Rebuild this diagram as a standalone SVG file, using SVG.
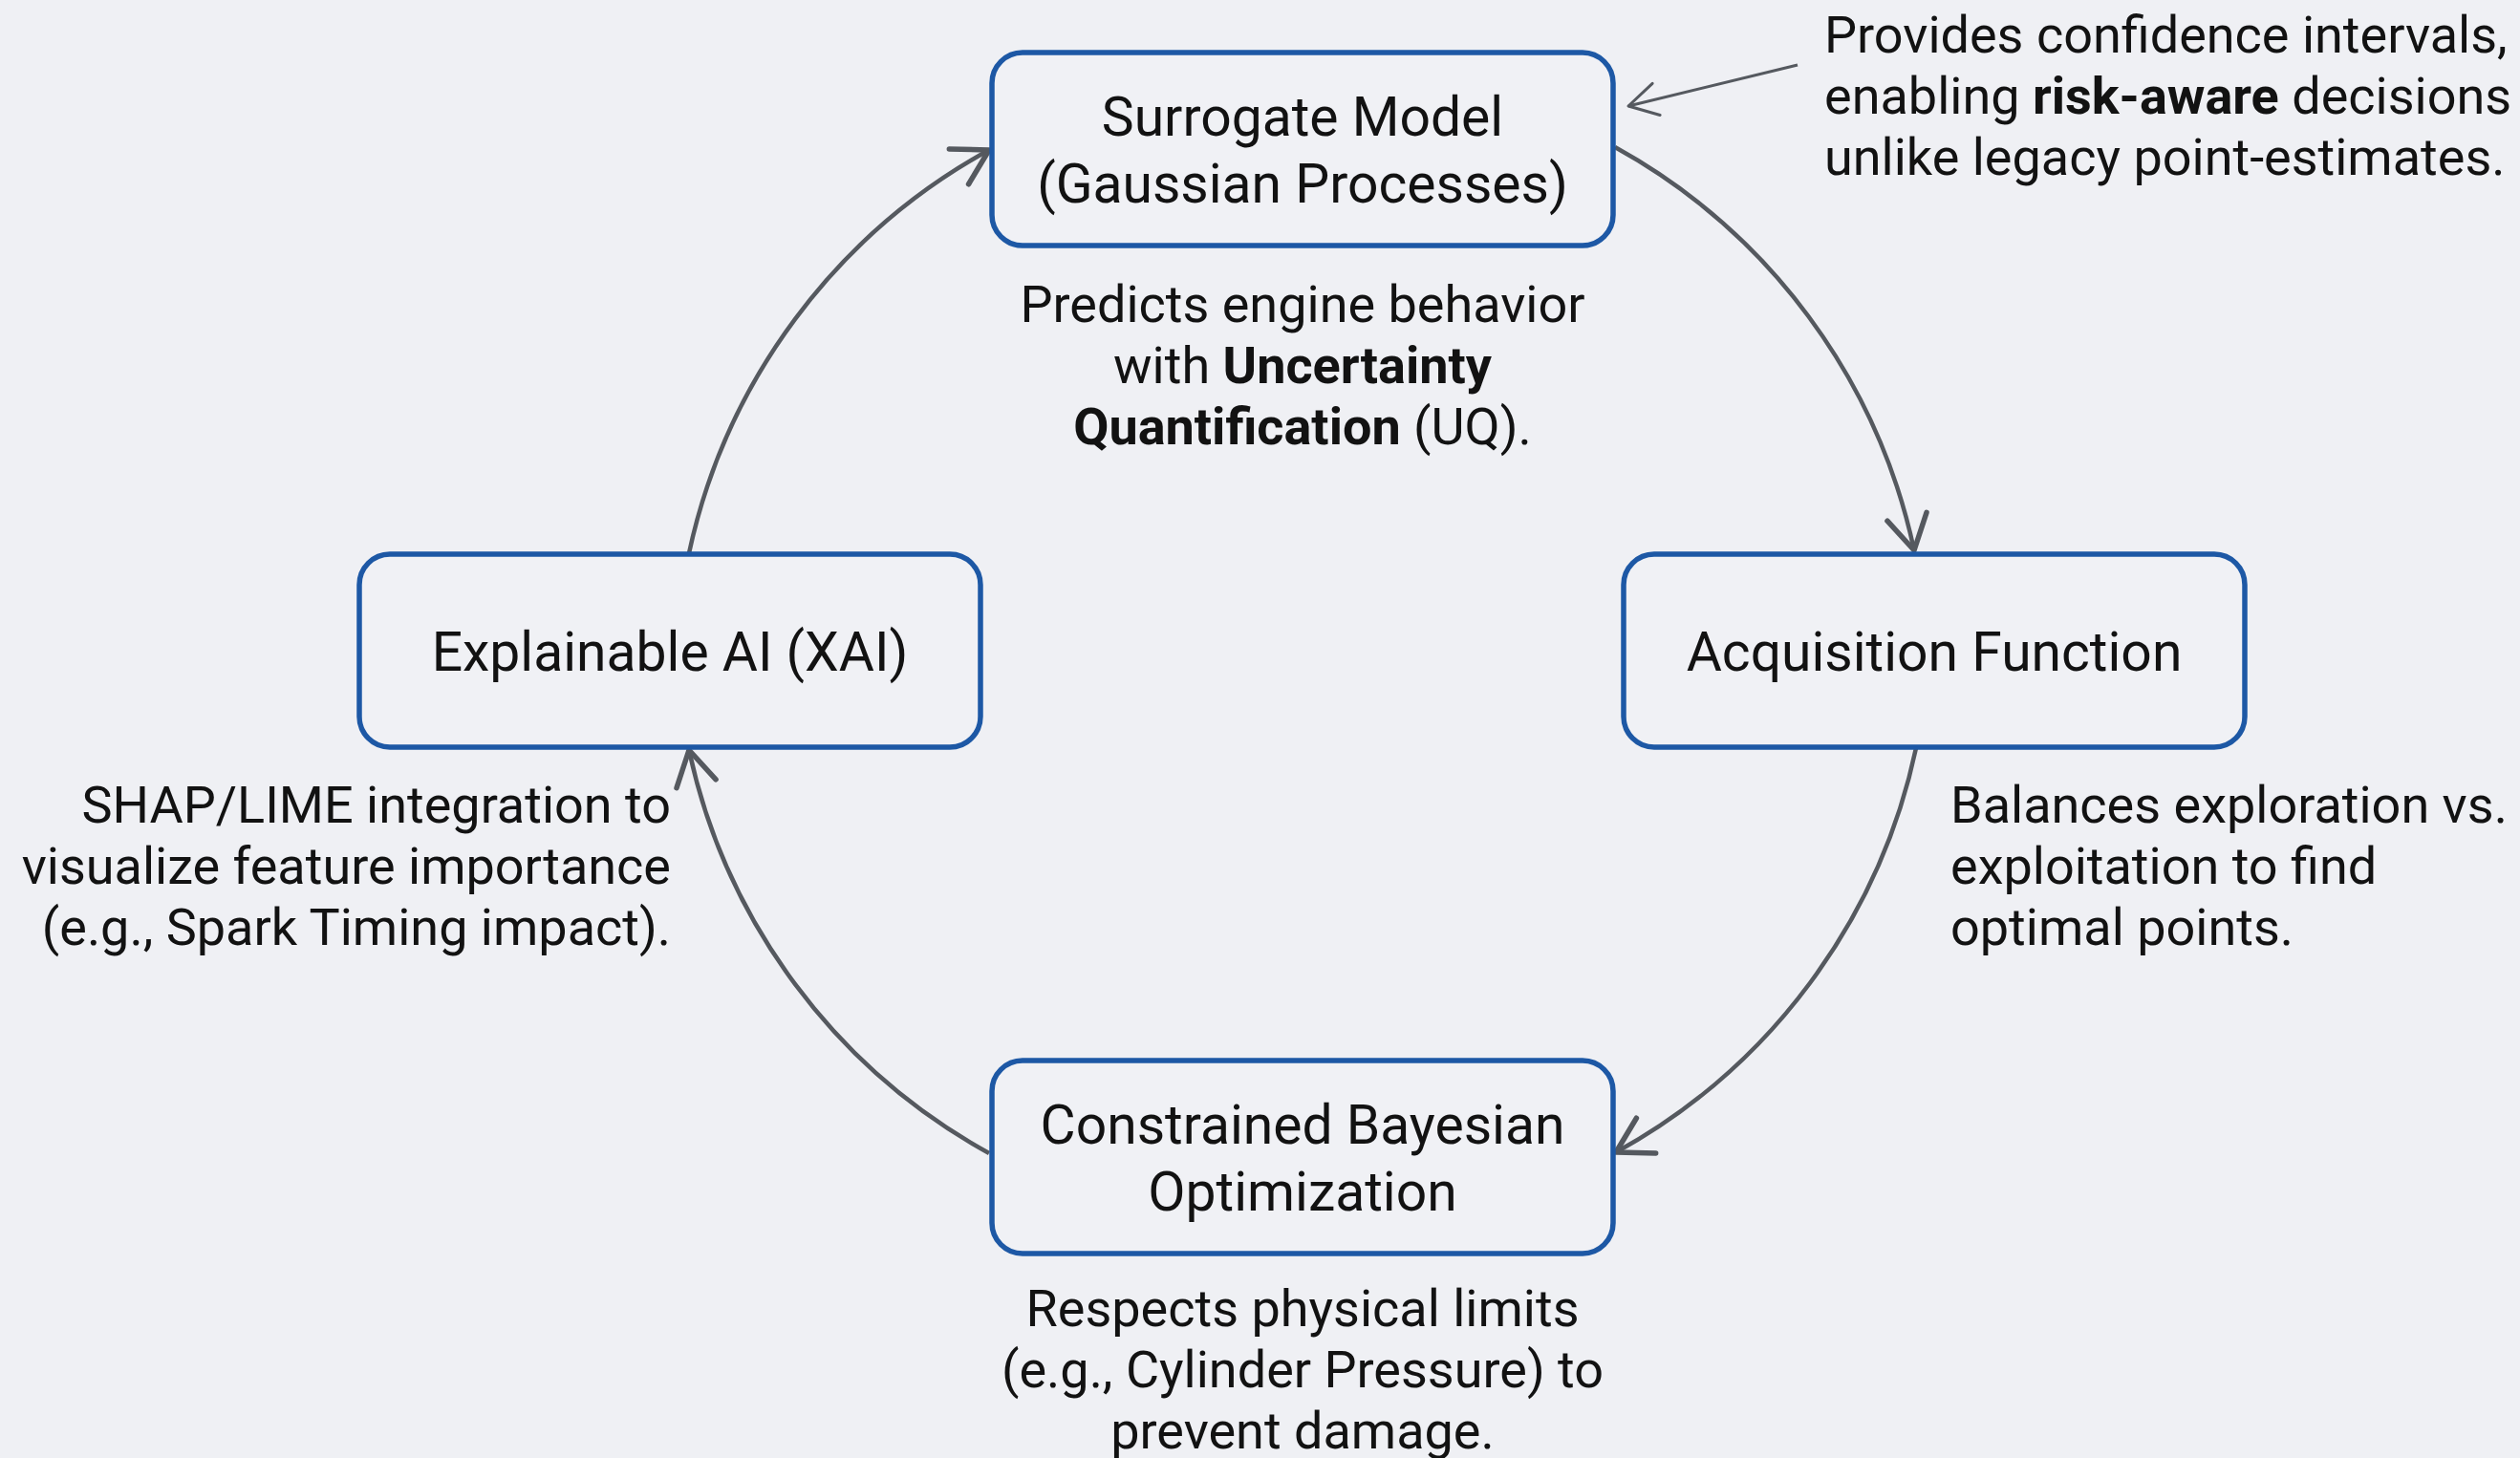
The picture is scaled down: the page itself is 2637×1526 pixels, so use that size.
<svg xmlns="http://www.w3.org/2000/svg" width="2637" height="1526" viewBox="0 0 2637 1526">
  <style>
    .node { fill: #f0f1f5; stroke: #1d58a5; stroke-width: 5.5; }
    .label { font-family: Roboto, "Liberation Sans", sans-serif; font-size: 57px; fill: #121212; text-anchor: middle; }
    .note { font-family: Roboto, "Liberation Sans", sans-serif; font-size: 54px; fill: #121212; }
    .b { font-weight: 700; }
    .flow { fill: none; stroke: #55595f; stroke-width: 4.5; marker-end: url(#head); }
    .callout { fill: none; stroke: #55595f; stroke-width: 3; marker-end: url(#thinHead); }
  </style>
  <defs>
    <marker id="head" markerUnits="userSpaceOnUse" orient="auto" overflow="visible" markerWidth="1" markerHeight="1" refX="0" refY="0">
      <path d="M-36,-21 L0,0 L-36,21" fill="none" stroke="#55595f" stroke-width="5.5" stroke-linecap="round" stroke-linejoin="round"/>
    </marker>
    <marker id="thinHead" markerUnits="userSpaceOnUse" orient="auto" overflow="visible" markerWidth="1" markerHeight="1" refX="0" refY="0">
      <path d="M-30,-17 L0,0 L-30,17" fill="none" stroke="#55595f" stroke-width="3" stroke-linecap="round" stroke-linejoin="round"/>
    </marker>
  </defs>

  <rect width="2637" height="1526" fill="#eff0f4"/>

  <!-- cycle connectors -->
  <g id="connectors">
    <path class="flow" d="M1690,154 A633,633 0 0 1 2003,576"/>
    <path class="flow" d="M2005,783 A633,633 0 0 1 1691,1206"/>
    <path class="flow" d="M1035,1207 A633,633 0 0 1 721,785"/>
    <path class="flow" d="M721,579 A633,633 0 0 1 1035,157"/>
    <path class="callout" d="M1881,68 L1704,111"/>
  </g>

  <g id="surrogate-model">
    <rect class="node" x="1038" y="55" width="650" height="202" rx="32"/>
    <text class="label" x="1363" y="142">Surrogate Model</text>
    <text class="label" x="1363" y="212">(Gaussian Processes)</text>
  </g>

  <g id="acquisition-function">
    <rect class="node" x="1699" y="580" width="650" height="202" rx="32"/>
    <text class="label" x="2024" y="702">Acquisition Function</text>
  </g>

  <g id="constrained-bo">
    <rect class="node" x="1038" y="1110" width="650" height="202" rx="32"/>
    <text class="label" x="1363" y="1197">Constrained Bayesian</text>
    <text class="label" x="1363" y="1267">Optimization</text>
  </g>

  <g id="explainable-ai">
    <rect class="node" x="376" y="580" width="650" height="202" rx="32"/>
    <text class="label" x="701" y="702">Explainable AI (XAI)</text>
  </g>

  <!-- annotations -->
  <g id="note-uq">
    <text class="note" text-anchor="middle" x="1363" y="337">Predicts engine behavior</text>
    <text class="note" text-anchor="middle" x="1363" y="401">with <tspan class="b">Uncertainty</tspan></text>
    <text class="note" text-anchor="middle" x="1363" y="465"><tspan class="b">Quantification</tspan> (UQ).</text>
  </g>

  <g id="note-confidence">
    <text class="note" x="1909" y="55">Provides confidence intervals,</text>
    <text class="note" x="1909" y="119">enabling <tspan class="b">risk-aware</tspan> decisions</text>
    <text class="note" x="1909" y="183">unlike legacy point-estimates.</text>
  </g>

  <g id="note-acquisition">
    <text class="note" x="2041" y="861">Balances exploration vs.</text>
    <text class="note" x="2041" y="925">exploitation to find</text>
    <text class="note" x="2041" y="989">optimal points.</text>
  </g>

  <g id="note-xai">
    <text class="note" text-anchor="end" x="702" y="861">SHAP/LIME integration to</text>
    <text class="note" text-anchor="end" x="702" y="925">visualize feature importance</text>
    <text class="note" text-anchor="end" x="702" y="989">(e.g., Spark Timing impact).</text>
  </g>

  <g id="note-constraints">
    <text class="note" text-anchor="middle" x="1363" y="1388">Respects physical limits</text>
    <text class="note" text-anchor="middle" x="1363" y="1452">(e.g., Cylinder Pressure) to</text>
    <text class="note" text-anchor="middle" x="1363" y="1516">prevent damage.</text>
  </g>
</svg>
